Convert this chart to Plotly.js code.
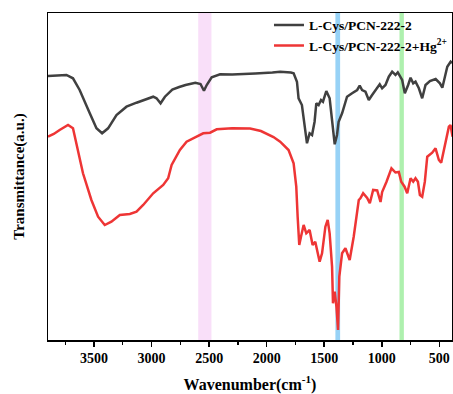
<!DOCTYPE html>
<html>
<head>
<meta charset="utf-8">
<script src="https://cdn.plot.ly/plotly-3.0.1.min.js"></script>
<style>html,body{margin:0;padding:0;background:#fff;}#chart{width:453px;height:394px;}</style>
</head>
<body>
<div id="chart"></div>
<script>
// Series 1: L-Cys/PCN-222-2 (wavenumber, transmittance a.u.)
const wnBlack = [3900,3800,3740,3683,3625,3537,3479,3430,3378,3305,3218,3131,3044,2986,2957,2922,2884,2841,2820,2760,2705,2620,2575,2545,2521,2478,2405,2300,2231,2100,1950,1883,1790,1766,1737,1723,1694,1665,1650,1627,1606,1584,1569,1549,1528,1511,1482,1453,1432,1409,1389,1375,1345,1302,1258,1214,1192,1171,1142,1113,1084,1040,1018,997,968,939,910,881,861,823,800,771,750,727,707,678,649,620,582,532,495,474,431,402,390];
const tBlack = [264,264.5,265,261.7,250,226.7,211.7,206.7,211.7,225,233.3,237.3,240.7,243.3,241.7,236.7,243.3,248.3,250.5,253,255,257.3,256,249.3,255,262.7,265.7,265.5,265.7,266.5,267.5,268.3,267.5,266.7,258.3,241.7,235,208.3,196.7,206.7,205,218.3,236.7,235,240,238.3,249,241.7,218.3,195.7,205,218.3,226.7,243.3,246.7,250,254.3,250,248.3,240,245,251.7,255.7,251.7,255,263.3,268.3,265,267.7,260,246.7,255,262.3,256.7,258.3,251.7,241.7,255,259,261,256.7,252.3,273.3,278.3,277];

// Series 2: L-Cys/PCN-222-2+Hg2+
const wnRed = [3900,3850,3799,3726,3683,3653,3596,3523,3465,3407,3349,3276,3230,3189,3131,3073,2986,2899,2856,2826,2754,2696,2609,2551,2492,2434,2300,2144,2050,1941,1883,1810,1766,1743,1731,1717,1702,1679,1656,1627,1601,1578,1540,1519,1490,1470,1453,1432,1424,1409,1394,1380,1369,1345,1316,1279,1244,1200,1186,1162,1127,1104,1075,1040,1011,997,959,916,881,852,831,802,779,750,727,707,686,669,649,626,605,562,533,504,484,446,417,403,385];
const tRed = [203.3,206,210,215,211.7,196.7,166.7,140,123.3,115,118.3,125,125.5,126,128.3,135,146.7,155,161.7,175,190,198.3,203.3,206.7,207.3,210.7,211.7,211.5,209,203,198.3,190,176.7,153.3,123.3,95,103.3,115,106.7,110,95,98.3,78.3,86.7,113.3,120,106.7,73.3,36.7,48.3,33.3,10,63.3,86.7,91.7,80,103.3,140,141.7,146.7,142,136.7,150,149.5,138,148,158.3,171.7,167.5,168,158.3,153.3,146.7,161.7,158.3,161.7,158.3,145,143.3,158.3,183.3,187.3,191.7,180,177.3,198.3,213.3,215,203.3];

const seriesNames = ["L-Cys/PCN-222-2", "L-Cys/PCN-222-2+Hg<sup>2+</sup>"];
// Highlight bands [from, to] in cm-1
const bandPink = [2595, 2480];
const bandBlue = [1403, 1362];
const bandGreen = [846, 808];
const xTickVals = [3500, 3000, 2500, 2000, 1500, 1000, 500];

const font = "'Liberation Serif', 'Times New Roman', serif";

const traces = [
  {x: wnBlack, y: tBlack, type: 'scatter', mode: 'lines', name: seriesNames[0],
   line: {color: '#404040', width: 2.5}},
  {x: wnRed, y: tRed, type: 'scatter', mode: 'lines', name: seriesNames[1],
   line: {color: '#ee3535', width: 2.5}}
];

function band(r, color) {
  return {type: 'rect', xref: 'x', yref: 'paper', x0: r[0], x1: r[1], y0: 0, y1: 1,
          fillcolor: color, line: {width: 0}, layer: 'below'};
}

const layout = {
  width: 453, height: 394,
  margin: {l: 48, r: 1, t: 13, b: 54},
  paper_bgcolor: '#fff', plot_bgcolor: '#fff',
  font: {family: font, color: '#000'},
  showlegend: true,
  legend: {x: 0.547, xanchor: 'left', y: 1.01, yanchor: 'top', bgcolor: 'rgba(0,0,0,0)',
           font: {family: font, size: 13.5, color: '#000', weight: 'bold'}},
  xaxis: {
    range: [3900, 390], tickvals: xTickVals, ticktext: xTickVals.map(String),
    ticks: 'outside', ticklen: 5, tickwidth: 1.5, tickcolor: '#000',
    minor: {dtick: 250, ticks: 'outside', ticklen: 3, tickwidth: 1.2, tickcolor: '#000'},
    showgrid: false, zeroline: false, showline: true, linecolor: '#000', linewidth: 1.5, mirror: true,
    tickfont: {family: font, size: 14, color: '#000', weight: 'bold'},
    title: {text: 'Wavenumber(cm<sup>-1</sup>)', standoff: 13,
            font: {family: font, size: 16, color: '#000', weight: 'bold'}}
  },
  yaxis: {
    range: [0, 327], showticklabels: false, ticks: '',
    showgrid: false, zeroline: false, showline: true, linecolor: '#000', linewidth: 1.5, mirror: true,
    title: {text: 'Transmittance(a.u.)', standoff: 18,
            font: {family: font, size: 15, color: '#000', weight: 'bold'}}
  },
  shapes: [band(bandPink, 'rgba(248,220,248,0.9)'), band(bandBlue, 'rgba(140,205,245,0.9)'), band(bandGreen, 'rgba(165,238,165,0.9)')]
};

Plotly.newPlot('chart', traces, layout, {displayModeBar: false, staticPlot: true});
</script>
</body>
</html>
